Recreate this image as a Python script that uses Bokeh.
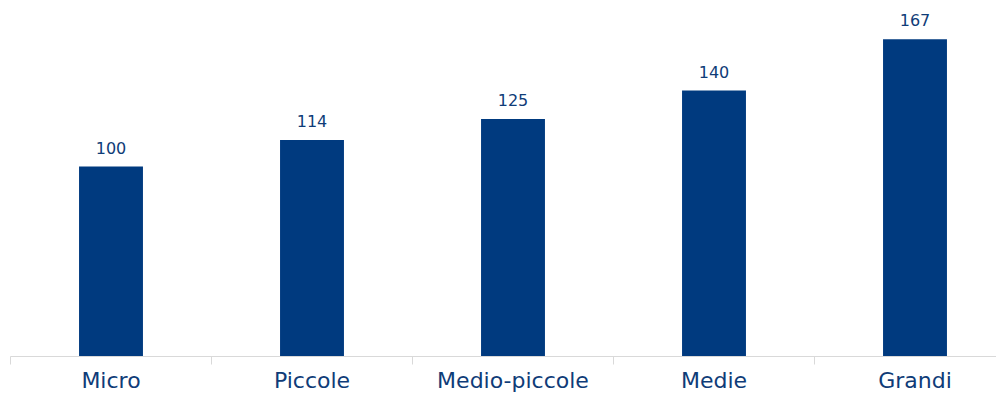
from bokeh.plotting import figure
from bokeh.models import ColumnDataSource, FixedTicker, Range1d
from bokeh.core.properties import value
from bokeh.embed import file_html
from bokeh.resources import INLINE

categories = ["Micro", "Piccole", "Medio-piccole", "Medie", "Grandi"]
values = [100, 114, 125, 140, 167]
labels = [str(v) for v in values]

xs = list(range(len(categories)))
src = ColumnDataSource(dict(x=xs, top=values, label=labels))

p = figure(width=996, height=395, output_backend="svg", toolbar_location=None,
           x_range=Range1d(-0.5, -0.5 + 986 / 201), y_range=Range1d(0, 356 / 1.9),
           min_border_left=10, min_border_right=0, min_border_top=0, min_border_bottom=39)
p.outline_line_color = None
p.background_fill_color = "white"
p.border_fill_color = "white"
p.grid.visible = False
p.yaxis.visible = False

p.vbar(x="x", top="top", width=0.318, bottom=0, source=src,
       fill_color="#003A7F", line_color=None)
p.text(x="x", y="top", text="label", source=src, text_align="center",
       text_baseline="bottom", y_offset=-13, text_font=value("DejaVu Sans"),
       text_font_size="16px", text_color="#0F3C78")

ax = p.xaxis[0]
ax.ticker = FixedTicker(ticks=xs, minor_ticks=[i - 0.5 for i in range(len(categories) + 1)])
ax.major_label_overrides = {i: c for i, c in enumerate(categories)}
ax.axis_line_color = "#D9D9D9"
ax.axis_line_width = 1
ax.major_tick_line_color = None
ax.major_tick_out = 0
ax.major_tick_in = 0
ax.minor_tick_line_color = "#D9D9D9"
ax.minor_tick_out = 8
ax.minor_tick_in = 0
ax.major_label_standoff = 3
ax.major_label_text_font = "DejaVu Sans"
ax.major_label_text_font_size = "22px"
ax.major_label_text_color = "#0F3C78"

open("out.html", "w").write(file_html(p, INLINE))
